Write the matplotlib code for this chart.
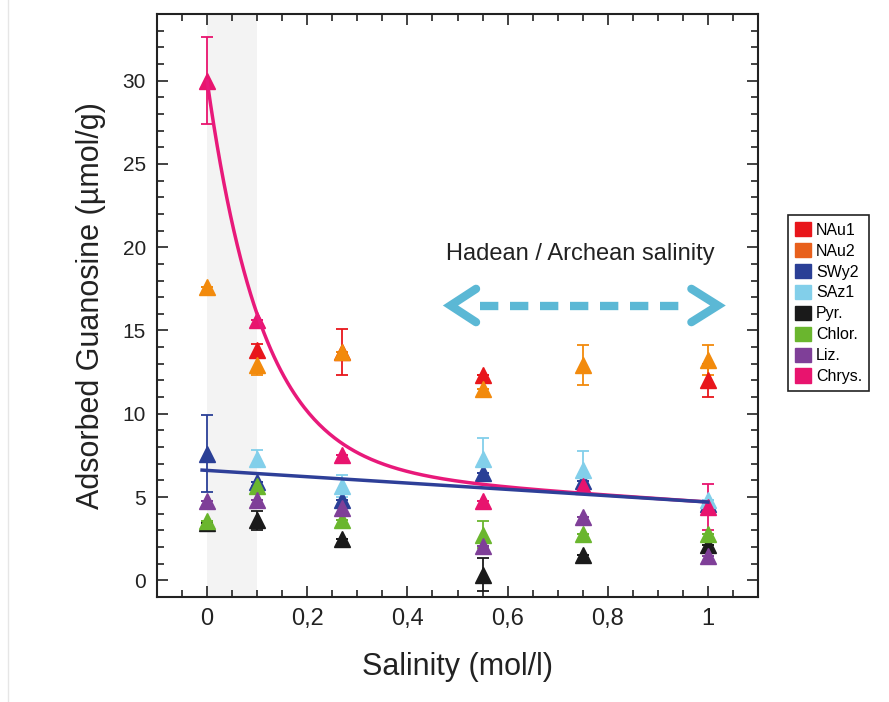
import numpy as np
import matplotlib
matplotlib.use('Agg')
import matplotlib.pyplot as plt
from matplotlib.patches import Patch
from matplotlib.lines import Line2D
from matplotlib.ticker import MultipleLocator, FuncFormatter

plt.rcParams['font.family'] = ['Liberation Sans', 'DejaVu Sans']

nan = np.nan
salinity = [0, 0.1, 0.27, 0.55, 0.75, 1.0]

names = ['NAu1', 'NAu2', 'SWy2', 'SAz1', 'Pyr.', 'Chlor.', 'Liz.', 'Chrys.']
colors = ['#e8161b', '#f28a0c', '#2a3f96', '#82cfea', '#1a1a1a', '#6ab62e', '#7f3f98', '#e8146e']
legend_colors = ['#e8161b', '#e8601c', '#2a3f96', '#82cfea', '#1a1a1a', '#6ab62e', '#7f3f98', '#e8146e']

nau1 = [nan, 13.8, 13.7, 12.3, nan, 12.0]
nau2 = [17.6, 12.9, 13.7, 11.5, 12.9, 13.2]
swy2 = [7.6, 5.9, 4.8, 6.45, 5.95, 4.6]
saz1 = [nan, 7.3, 5.65, 7.3, 6.65, 4.85]
pyr = [3.45, 3.6, 2.5, 0.35, 1.55, 2.15]
chlor = [3.55, 5.65, 3.65, 2.75, 2.8, 2.8]
liz = [4.75, 4.8, 4.35, 2.05, 3.8, 1.45]
chrys = [30.0, 15.6, 7.5, 4.75, 5.65, 4.4]

nau1_err = [0, 0.4, 1.4, 0, 0, 1.0]
nau2_err = [0, 0.6, 0, 0, 1.2, 0.9]
swy2_err = [2.3, 0, 0, 0, 0, 0]
saz1_err = [0, 0.5, 0.65, 1.25, 1.1, 0]
pyr_err = [0, 0.55, 0, 1.0, 0, 0]
chlor_err = [0, 0, 0, 0.8, 0, 0]
liz_err = [0, 0, 0, 0, 0, 0]
chrys_err = [2.6, 0, 0, 0, 0, 1.4]

# fitted curves: pink = c + m*x + a*exp(-k*x), blue = linear
pink_fit = {'c': 6.7, 'm': -2.0, 'a': 23.3, 'k': 9.0}
blue_fit = {'b': 6.6, 'm': -1.9}

series = [nau1, nau2, swy2, saz1, pyr, chlor, liz, chrys]
errors = [nau1_err, nau2_err, swy2_err, saz1_err, pyr_err, chlor_err, liz_err, chrys_err]

fig = plt.figure(figsize=(8.89, 7.02), dpi=100)
ax = fig.add_axes([157 / 889, 1 - 597 / 702, (758 - 157) / 889, (597 - 14) / 702])

ax.axvspan(0, 0.1, color='#f3f3f3', zorder=0, lw=0)

for vals, err, col in zip(series, errors, colors):
    ax.errorbar(salinity, vals, yerr=err, fmt='^', color=col, ms=11.5, mec=col,
                elinewidth=1.3, capsize=4, capthick=1.3, zorder=2)

xs = np.linspace(0, 1.0, 300)
pink = pink_fit['c'] + pink_fit['m'] * xs + pink_fit['a'] * np.exp(-pink_fit['k'] * xs)
xb = np.array([-0.01, 1.0])
blue = blue_fit['b'] + blue_fit['m'] * xb
ax.plot(xs, pink, color='#e8197a', lw=2.5, zorder=3)
ax.plot(xb, blue, color='#2e3f98', lw=2.5, zorder=3)

# double arrow
arrow_col = '#5bb8d5'
ax.plot([0.545, 0.955], [16.5, 16.5], color=arrow_col, lw=6, ls=(0, (2.2, 1.4)),
        solid_capstyle='butt', zorder=4)
ax.plot([0.537, 0.486, 0.537], [17.5, 16.5, 15.5], color=arrow_col, lw=6,
        solid_capstyle='round', solid_joinstyle='miter', zorder=4)
ax.plot([0.967, 1.02, 0.967], [17.5, 16.5, 15.5], color=arrow_col, lw=6,
        solid_capstyle='round', solid_joinstyle='miter', zorder=4)
ax.text(0.745, 19.6, 'Hadean / Archean salinity', ha='center', va='center', fontsize=17, color='#222222')

ax.set_xlim(-0.1, 1.1)
ax.set_ylim(-1, 34)
ax.xaxis.set_major_locator(MultipleLocator(0.2))
ax.xaxis.set_minor_locator(MultipleLocator(0.05))
ax.yaxis.set_major_locator(MultipleLocator(5))
ax.yaxis.set_minor_locator(MultipleLocator(1))
ax.xaxis.set_major_formatter(FuncFormatter(lambda v, p: ('%g' % round(v, 2)).replace('.', ',')))
ax.tick_params(which='both', direction='in', top=True, right=True, width=1.2, colors='#222222')
ax.tick_params(axis='x', labelsize=17)
ax.tick_params(axis='y', labelsize=15)
ax.tick_params(which='major', length=8, pad=8)
ax.tick_params(which='minor', length=5)
for s in ax.spines.values():
    s.set_linewidth(1.5)
    s.set_color('#222222')

ax.set_xlabel('Salinity (mol/l)', fontsize=22, labelpad=16, color='#222222')
ax.set_ylabel('Adsorbed Guanosine (µmol/g)', fontsize=22, labelpad=12, color='#222222')

handles = [Patch(facecolor=c, edgecolor=c, alpha=1) for c in legend_colors]
leg = fig.legend(handles, names, loc='upper left', bbox_to_anchor=(788 / 889, 1 - 215 / 702),
                 borderaxespad=0, fontsize=11.5, handlelength=1.0, handleheight=1.0,
                 handletextpad=0.3, labelspacing=0.33, fancybox=False, framealpha=1,
                 edgecolor='#222222', borderpad=0.45)
leg.get_frame().set_linewidth(1.2)

fig.add_artist(Line2D([0.009, 0.009], [0, 1], color='#e6e6e6', lw=1))

fig.savefig('out.png', dpi=100)
